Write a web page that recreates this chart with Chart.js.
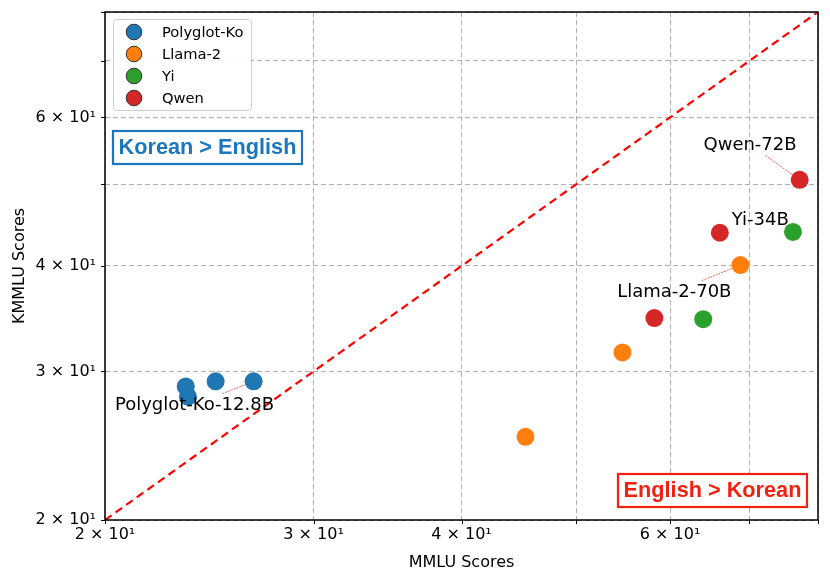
<!DOCTYPE html>
<html><head><meta charset="utf-8">
<script src="https://cdn.jsdelivr.net/npm/chart.js@4"></script>
<style>html,body{margin:0;padding:0;background:#fff}#wrap{width:830px;height:583px}</style>
</head><body><div id="wrap"><canvas id="c" width="830" height="583"></canvas></div>
<script>
// ---- data ----
const seriesNames = ['Polyglot-Ko', 'Llama-2', 'Yi', 'Qwen'];
const seriesColors = ['#1f77b4', '#ff7f0e', '#2ca02c', '#d62728'];
const polyglotMMLU = [23.4, 23.5, 24.8, 26.7];
const polyglotKMMLU = [28.8, 28.0, 29.2, 29.2];
const llamaMMLU = [45.3, 54.7, 68.8];
const llamaKMMLU = [25.1, 31.6, 40.1];
const yiMMLU = [64.0, 76.2];
const yiKMMLU = [34.6, 43.9];
const qwenMMLU = [58.2, 66.1, 77.2];
const qwenKMMLU = [34.7, 43.8, 50.6];
const axisTicks = [20, 30, 40, 50, 60, 70, 80];
const labelledTicks = [20, 30, 40, 60];
const annotLabels = ['Qwen-72B', 'Yi-34B', 'Llama-2-70B', 'Polyglot-Ko-12.8B'];
const annotPointX = [77.2, 76.2, 68.8, 26.7];
const annotPointY = [50.6, 43.9, 40.1, 29.2];
const annotTextX = [70.1, 71.5, 60.5, 23.8];
const annotTextY = [55.7, 45.4, 37.3, 27.4];
const boxTexts = ['Korean > English', 'English > Korean'];
const boxColors = ['#1a76bd', '#f0220f'];
const diagonal = [20, 80];

const allX = [polyglotMMLU, llamaMMLU, yiMMLU, qwenMMLU];
const allY = [polyglotKMMLU, llamaKMMLU, yiKMMLU, qwenKMMLU];

function fmtTick(v) {
  return labelledTicks.includes(v) ? (v / 10) + ' \u00d7 10\u00b9' : '';
}

const datasets = seriesNames.map((n, i) => ({
  type: 'scatter',
  label: n,
  data: allX[i].map((x, j) => ({ x: x, y: allY[i][j] })),
  backgroundColor: seriesColors[i],
  borderWidth: 0,
  pointRadius: 9,
  pointHoverRadius: 9
}));
datasets.push({
  type: 'line',
  label: 'diag',
  data: diagonal.map(v => ({ x: v, y: v })),
  borderColor: '#ff0000',
  borderWidth: 2.2,
  borderDash: [8, 5],
  pointRadius: 0,
  fill: false,
  tension: 0
});

const FONT = '"DejaVu Sans", sans-serif';

const overlay = {
  id: 'overlay',
  beforeDatasetsDraw(chart) {
    const ctx = chart.ctx, xs = chart.scales.x, ys = chart.scales.y;
    ctx.save();
    ctx.font = '18px ' + FONT;
    annotLabels.forEach((t, i) => {
      const cx = xs.getPixelForValue(annotTextX[i]), cy = ys.getPixelForValue(annotTextY[i]);
      const px = xs.getPixelForValue(annotPointX[i]), py = ys.getPixelForValue(annotPointY[i]);
      const hw = ctx.measureText(t).width / 2 + 3, hh = 11;
      const dx = px - cx, dy = py - cy;
      let tt = Infinity;
      if (dx !== 0) tt = Math.min(tt, hw / Math.abs(dx));
      if (dy !== 0) tt = Math.min(tt, hh / Math.abs(dy));
      if (tt >= 1) return;
      ctx.beginPath();
      ctx.strokeStyle = 'rgba(255,0,0,0.8)';
      ctx.lineWidth = 0.8;
      ctx.setLineDash([2, 1]);
      ctx.moveTo(cx + dx * tt, cy + dy * tt);
      ctx.lineTo(px, py);
      ctx.stroke();
    });
    ctx.restore();
  },
  afterDatasetsDraw(chart) {
    const ctx = chart.ctx, xs = chart.scales.x, ys = chart.scales.y, a = chart.chartArea;
    ctx.save();
    // annotation texts
    ctx.font = '18px ' + FONT;
    ctx.fillStyle = '#000';
    ctx.textAlign = 'center';
    ctx.textBaseline = 'middle';
    annotLabels.forEach((t, i) => {
      ctx.fillText(t, xs.getPixelForValue(annotTextX[i]), ys.getPixelForValue(annotTextY[i]) + 1);
    });
    // boxes
    const boxes = [
      { x: a.left + 8, y: a.top + 119 },
      { x: a.right - 10 - 190, y: a.bottom - 46 }
    ];
    ctx.font = 'bold 21.7px "Liberation Sans", Arial, sans-serif';
    boxTexts.forEach((t, i) => {
      const w = 189, h = 33;
      const b = boxes[i];
      ctx.fillStyle = '#fff';
      ctx.fillRect(b.x, b.y, w, h);
      ctx.strokeStyle = boxColors[i];
      ctx.lineWidth = 2.2;
      ctx.setLineDash([]);
      ctx.strokeRect(b.x, b.y, w, h);
      ctx.fillStyle = boxColors[i];
      ctx.textAlign = 'center';
      ctx.textBaseline = 'middle';
      ctx.fillText(t, b.x + w / 2, b.y + h / 2 + 1);
    });
    // legend
    const lx = a.left + 8, ly = a.top + 7, lw = 138, lh = 91;
    ctx.fillStyle = 'rgba(255,255,255,0.85)';
    ctx.strokeStyle = '#cccccc';
    ctx.lineWidth = 1;
    ctx.beginPath();
    if (ctx.roundRect) ctx.roundRect(lx + 0.5, ly + 0.5, lw, lh, 3); else ctx.rect(lx + 0.5, ly + 0.5, lw, lh);
    ctx.fill();
    ctx.stroke();
    ctx.font = '14.7px ' + FONT;
    ctx.textAlign = 'left';
    ctx.textBaseline = 'middle';
    seriesNames.forEach((n, i) => {
      const yy = ly + 13 + i * 22;
      ctx.beginPath();
      ctx.arc(lx + 21, yy, 7.8, 0, Math.PI * 2);
      ctx.fillStyle = seriesColors[i];
      ctx.fill();
      ctx.strokeStyle = '#333';
      ctx.lineWidth = 1;
      ctx.stroke();
      ctx.fillStyle = '#000';
      ctx.fillText(n, lx + 49, yy + 1);
    });
    // frame
    ctx.strokeStyle = '#000';
    ctx.lineWidth = 1.5;
    ctx.setLineDash([]);
    ctx.strokeRect(a.left, a.top, a.right - a.left, a.bottom - a.top);
    // tick marks
    ctx.lineWidth = 1;
    axisTicks.forEach(v => {
      const px = Math.round(xs.getPixelForValue(v)) + 0.5;
      ctx.beginPath(); ctx.moveTo(px, a.bottom); ctx.lineTo(px, a.bottom + 4); ctx.stroke();
      const py = Math.round(ys.getPixelForValue(v)) + 0.5;
      ctx.beginPath(); ctx.moveTo(a.left, py); ctx.lineTo(a.left - 4, py); ctx.stroke();
    });
    ctx.restore();
  }
};

const gridOpts = { color: '#b0b0b0', lineWidth: 1, drawTicks: false };

new Chart(document.getElementById('c'), {
  data: { datasets: datasets },
  options: {
    responsive: false,
    animation: false,
    events: [],
    layout: { padding: { left: 0, right: 12, top: 12, bottom: 0 } },
    plugins: { legend: { display: false }, tooltip: { enabled: false } },
    scales: {
      x: {
        type: 'logarithmic', min: 20, max: 80,
        afterBuildTicks: s => { s.ticks = axisTicks.map(v => ({ value: v })); },
        afterFit: s => { s.height = 63; s.paddingLeft = 0; s.paddingRight = 0; },
        grid: gridOpts,
        border: { display: false, dash: [5, 3] },
        ticks: { callback: v => fmtTick(v), autoSkip: false, maxRotation: 0, padding: 5,
                 color: '#000', font: { family: FONT, size: 16 } },
        title: { display: true, text: 'MMLU Scores', color: '#000', font: { family: FONT, size: 16 },
                 padding: { top: 0, bottom: 11 } }
      },
      y: {
        type: 'logarithmic', min: 20, max: 80,
        afterBuildTicks: s => { s.ticks = axisTicks.map(v => ({ value: v })); },
        afterFit: s => { s.width = 105; s.paddingTop = 0; s.paddingBottom = 0; },
        grid: gridOpts,
        border: { display: false, dash: [5, 3] },
        ticks: { callback: v => fmtTick(v), autoSkip: false, padding: 9,
                 color: '#000', font: { family: FONT, size: 16 } },
        title: { display: true, text: 'KMMLU Scores', color: '#000', font: { family: FONT, size: 16 },
                 padding: { top: 10, bottom: 0 } }
      }
    }
  },
  plugins: [overlay]
});
</script>
</body></html>
